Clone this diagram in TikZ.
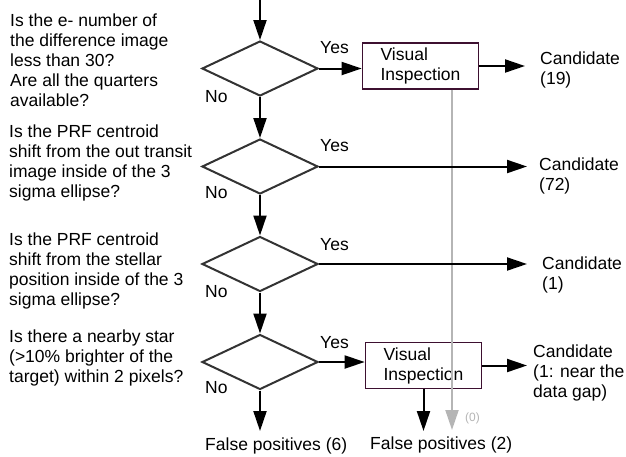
\documentclass[tikz,border=0pt]{standalone}
\usepackage{fontspec}
\setmainfont{Liberation Sans}
\usetikzlibrary{arrows.meta,shapes.geometric}
\definecolor{dgray}{HTML}{333333}
\definecolor{boxc}{HTML}{3D1030}
\definecolor{lgray}{HTML}{B5B5B5}
\begin{document}
\begin{tikzpicture}[x=1pt,y=-1pt,
  every node/.style={font=\fontsize{17.5}{20}\selectfont, inner sep=0pt},
  txt/.style={anchor=north west, align=left},
  lbl/.style={anchor=base west},
  decision/.style={diamond, draw=dgray, line width=2pt, minimum width=116pt, minimum height=55pt},
  inspect/.style={draw=boxc, line width=1.7pt, minimum width=116pt, minimum height=46pt, align=left},
  arr/.style={line width=2pt, -{Triangle[length=20pt,width=13pt]}},
  garr/.style={draw=lgray, fill=lgray, line width=2pt, -{Triangle[length=20pt,width=13pt]}}
]
\useasboundingbox (0,0) rectangle (626,456);

% decisions
\node[decision] (D1) at (260,68.5) {};
\node[decision] (D2) at (260,166.5) {};
\node[decision] (D3) at (260,264) {};
\node[decision] (D4) at (260,362) {};

% inspections
\node[inspect] (V1) at (420.5,66) {Visual\\Inspection};
\node[inspect] (V2) at (423.5,365.5) {Visual\\Inspection};

% questions
\node[txt] (q1) at (10,13.5) {Is the e- number of\\the difference image\\less than 30?\\Are all the quarters\\available?};
\node[txt] (q2) at (9,125) {Is the PRF centroid\\shift from the out transit\\image inside of the 3\\sigma ellipse?};
\node[txt] (q3) at (9,233) {Is the PRF centroid\\shift from the stellar\\position inside of the 3\\sigma ellipse?};
\node[txt] (q4) at (9,330) {Is there a nearby star\\(>10\% brighter of the\\target) within 2 pixels?};

% yes / no labels
\node[lbl] (y1) at (320,53) {Yes};
\node[lbl] (y2) at (320,151) {Yes};
\node[lbl] (y3) at (320,250) {Yes};
\node[lbl] (y4) at (320,348) {Yes};
\node[lbl] (n1) at (205,102) {No};
\node[lbl] (n2) at (205,198) {No};
\node[lbl] (n3) at (205,297) {No};
\node[lbl] (n4) at (205,393) {No};

% outcomes
\node[txt] (c1) at (540,52) {Candidate\\(19)};
\node[txt] (c2) at (539,158) {Candidate\\(72)};
\node[txt] (c3) at (542,257) {Candidate\\(1)};
\node[txt] (c4) at (533,345) {Candidate\\(1: near the\\data gap)};
\node[txt] (fp6) at (205,438) {False positives (6)};
\node[txt] (fp2) at (370,437) {False positives (2)};
\node[txt, font=\fontsize{12}{14}\selectfont, text=lgray] (zero) at (465,413) {(0)};

% coordinates for free ends
\coordinate (top) at (260,0);
\coordinate (e1) at (525,66);
\coordinate (e2) at (527,167);
\coordinate (e3) at (527,264);
\coordinate (e4) at (527,366);
\coordinate (f6) at (260,431);
\coordinate (f2) at (423.5,431);
\coordinate (g) at (452,430);

% gray connector
\draw[garr] (V1.south -| g) -- (g);

% main connectors
\draw[arr] (top) -- (D1.north);
\draw[arr] (D1.south) -- (D2.north);
\draw[arr] (D2.south) -- (D3.north);
\draw[arr] (D3.south) -- (D4.north);
\draw[arr] (D4.south) -- (f6);
\draw[arr] (D1.east) -- (V1.west |- D1.east);
\draw[arr] (V1.east) -- (V1.east -| e1);
\draw[arr] (D2.east) -- (D2.east -| e2);
\draw[arr] (D3.east) -- (D3.east -| e3);
\draw[arr] (D4.east) -- (V2.west |- D4.east);
\draw[arr] (V2.east) -- (V2.east -| e4);
\draw[arr] (V2.south) -- (f2);
\end{tikzpicture}
\end{document}
